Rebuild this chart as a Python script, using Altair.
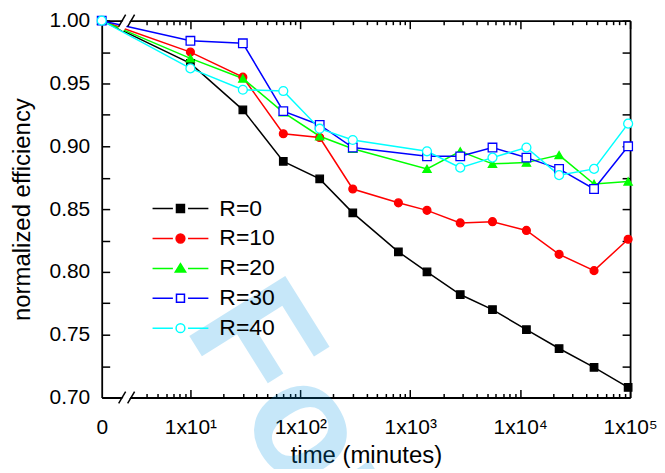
import altair as alt
import pandas as pd
import math

# ---------------- data ----------------
series = ["R=0", "R=10", "R=20", "R=30", "R=40"]
times_long = [0, 10, 30, 70, 150, 300, 780, 1420, 2850, 5600, 11400, 22600, 47000, 96000]
times_short = [0, 10, 30, 70, 150, 300, 1420, 2850, 5600, 11400, 22600, 47000, 96000]
r0 = [1.000, 0.966, 0.929, 0.888, 0.874, 0.847, 0.816, 0.800, 0.782, 0.770, 0.754, 0.739, 0.724, 0.708]
r10 = [1.000, 0.975, 0.955, 0.910, 0.907, 0.866, 0.855, 0.849, 0.839, 0.840, 0.833, 0.814, 0.801, 0.826]
r20 = [1.000, 0.970, 0.954, 0.927, 0.908, 0.898, 0.882, 0.896, 0.886, 0.887, 0.893, 0.870, 0.872]
r30 = [1.000, 0.984, 0.982, 0.928, 0.917, 0.899, 0.892, 0.892, 0.899, 0.891, 0.882, 0.866, 0.900]
r40 = [1.000, 0.962, 0.945, 0.944, 0.914, 0.905, 0.896, 0.883, 0.891, 0.899, 0.877, 0.882, 0.918]

y_ticks = [0.70, 0.75, 0.80, 0.85, 0.90, 0.95, 1.00]
y_minor = [0.70, 0.725, 0.75, 0.775, 0.80, 0.825, 0.85, 0.875, 0.90, 0.925, 0.95, 0.975, 1.00]
x_major = [1, 2, 3, 4, 5]          # log10 of 1x10^1 ... 1x10^5
x_minor_mult = [2, 3, 4, 5, 6, 7, 8, 9]

# ---------------- styles ----------------
colors = ["#000000", "#FF0000", "#00FF00", "#0000FF", "#00FFFF"]
fills = ["#000000", "#FF0000", "#00FF00", "#FFFFFF", "#FFFFFF"]
shapes = ["square", "circle", "triangle-up", "square", "circle"]
sizes = [56, 80, 120, 64, 90]
legend_paths = [
    "M-7,0H-1.9M1.9,0H7M-1,-1H1V1H-1Z",
    "M-7,0H-1.9M1.9,0H7M-1.1,0A1.1,1.1,0,1,1,1.1,0A1.1,1.1,0,1,1,-1.1,0Z",
    "M-7,0H-1.9M1.9,0H7M0,-1.2L1.3,0.9H-1.3Z",
    "M-7,0H-1.9M1.9,0H7M-1,-1H1V1H-1Z",
    "M-7,0H-1.9M1.9,0H7M-1.1,0A1.1,1.1,0,1,1,1.1,0A1.1,1.1,0,1,1,-1.1,0Z",
]

W, H = 530, 378
U0 = 0.193          # where t = 0 sits on the broken log axis (in log10 units)
FONT = "Liberation Sans"

x_minor = [math.log10(m * 10 ** d) for d in range(0, 5) for m in x_minor_mult]
x_minor = [v for v in x_minor if v > 0.55]

rows = []
for name, vals in zip(series, [r0, r10, r20, r30, r40]):
    ts = times_long if len(vals) == len(times_long) else times_short
    for t, v in zip(ts, vals):
        rows.append({"series": name, "t": t, "eff": v})
df = pd.DataFrame(rows)

base = alt.Chart(df).transform_calculate(
    u=f"datum.t == 0 ? {U0} : log(datum.t) / LN10"
)

xs = alt.Scale(domain=[U0, 5], nice=False, zero=False)
ys = alt.Scale(domain=[0.70, 1.00], nice=False, zero=False)

sup = "['','\u00b9','\u00b2','\u00b3','\u2074','\u2075']"
x_label_axis = alt.Axis(
    orient="bottom", values=[U0] + x_major, ticks=False, tickSize=0,
    labelExpr=f"datum.value < 0.5 ? '0' : '1x10' + {sup}[round(datum.value)]",
    labelFontSize=21, labelPadding=19, labelFlush=False, labelOverlap=False,
    title="time (minutes)", titleFontSize=24, titlePadding=6,
    domain=True, grid=False,
)
y_label_axis = alt.Axis(
    orient="left", values=y_ticks, format=".2f", ticks=False, tickSize=0,
    labelFontSize=21, labelPadding=12, labelFlush=False, labelOverlap=False,
    title="normalized efficiency", titleFontSize=24, titlePadding=15,
    domain=True, grid=False,
)

def tick_axis(orient, offset, values, size, domain=False):
    return alt.Axis(orient=orient, offset=offset, values=values, tickSize=size,
                    labels=False, domain=domain, title=None, grid=False, ticks=True)

empty = base.transform_filter("false")
one = alt.Data(values=[{"k": 0}])

# watermark
wm = alt.Chart(one).mark_text(
    text="For", angle=58, font=FONT, fontWeight="bold", fontSize=165,
    color="#0096E6", opacity=0.22, align="left", baseline="alphabetic"
).encode(x=alt.value(82), y=alt.value(307))

lines = base.mark_line(strokeWidth=1.5).encode(
    x=alt.X("u:Q", scale=xs, axis=x_label_axis),
    y=alt.Y("eff:Q", scale=ys, axis=y_label_axis),
    stroke=alt.Stroke("series:N", scale=alt.Scale(domain=series, range=colors), legend=None),
    detail="series:N",
)

pts = base.mark_point(filled=False, opacity=1, strokeWidth=1.3).encode(
    x=alt.X("u:Q", scale=xs, axis=tick_axis("top", -H, x_major, 8)),
    y=alt.Y("eff:Q", scale=ys, axis=tick_axis("right", -W, y_minor, 8)),
    shape=alt.Shape("series:N", scale=alt.Scale(domain=series, range=shapes), legend=None),
    stroke=alt.Stroke("series:N", scale=alt.Scale(domain=series, range=colors), legend=None),
    fill=alt.Fill("series:N", scale=alt.Scale(domain=series, range=fills), legend=None),
    size=alt.Size("series:N", scale=alt.Scale(domain=series, range=sizes), legend=None),
)

ax_c = empty.mark_point().encode(
    x=alt.X("u:Q", scale=xs, axis=tick_axis("top", -H, x_minor, 4)),
    y=alt.Y("eff:Q", scale=ys, axis=tick_axis("left", -W, y_minor, 8, domain=True)),
)
ax_d = empty.mark_point().encode(
    x=alt.X("u:Q", scale=xs, axis=tick_axis("bottom", -H, x_major, 8, domain=True)),
)
ax_e = empty.mark_point().encode(
    x=alt.X("u:Q", scale=xs, axis=tick_axis("bottom", -H, x_minor, 4)),
)

# axis break decoration (pixel positions relative to the plot area): white band + two slashes
brk = []
for ypix in [H, 0]:
    brk.append(alt.Chart(one).mark_rule(color="white", strokeWidth=6).encode(
        x=alt.value(19), x2=alt.value(31), y=alt.value(ypix + 9), y2=alt.value(ypix - 9)))
    for a, b in [(17, 24), (26, 33)]:
        brk.append(alt.Chart(one).mark_rule(color="black", strokeWidth=1.5).encode(
            x=alt.value(a), x2=alt.value(b), y=alt.value(ypix + 6), y2=alt.value(ypix - 6)))

L = alt.Legend(orient="none", legendX=67.5, legendY=177, title=None, padding=0,
               labelFontSize=23, labelFont=FONT, labelColor="black",
               symbolSize=64, symbolStrokeWidth=1.5, labelOffset=27.5, rowPadding=6,
               symbolOpacity=1)
leg = empty.mark_point(filled=False, opacity=1, strokeWidth=1.5, size=64).encode(
    x=alt.X("u:Q", scale=xs, axis=None),
    y=alt.Y("eff:Q", scale=ys, axis=None),
    shape=alt.Shape("series:N", scale=alt.Scale(domain=series, range=legend_paths), legend=L),
    stroke=alt.Stroke("series:N", scale=alt.Scale(domain=series, range=colors), legend=L),
    fill=alt.Fill("series:N", scale=alt.Scale(domain=series, range=fills), legend=L),
)

chart = alt.layer(wm, lines, pts, ax_c, ax_d, ax_e, *brk, leg).resolve_axis(
    x="independent", y="independent"
).resolve_scale(
    stroke="independent", fill="independent", shape="independent", size="independent"
).properties(
    width=W, height=H,
    autosize=alt.AutoSizeParams(type="none"),
    padding={"left": 94, "top": 12, "right": 27, "bottom": 71},
).configure_view(stroke=None).configure_axis(
    labelFont=FONT, titleFont=FONT, labelColor="black", titleColor="black",
    titleFontWeight="normal", domainColor="black", tickColor="black",
    domainWidth=1.8, tickWidth=1.5,
)

chart.save("out.html", embed_options={"renderer": "svg", "actions": False})
